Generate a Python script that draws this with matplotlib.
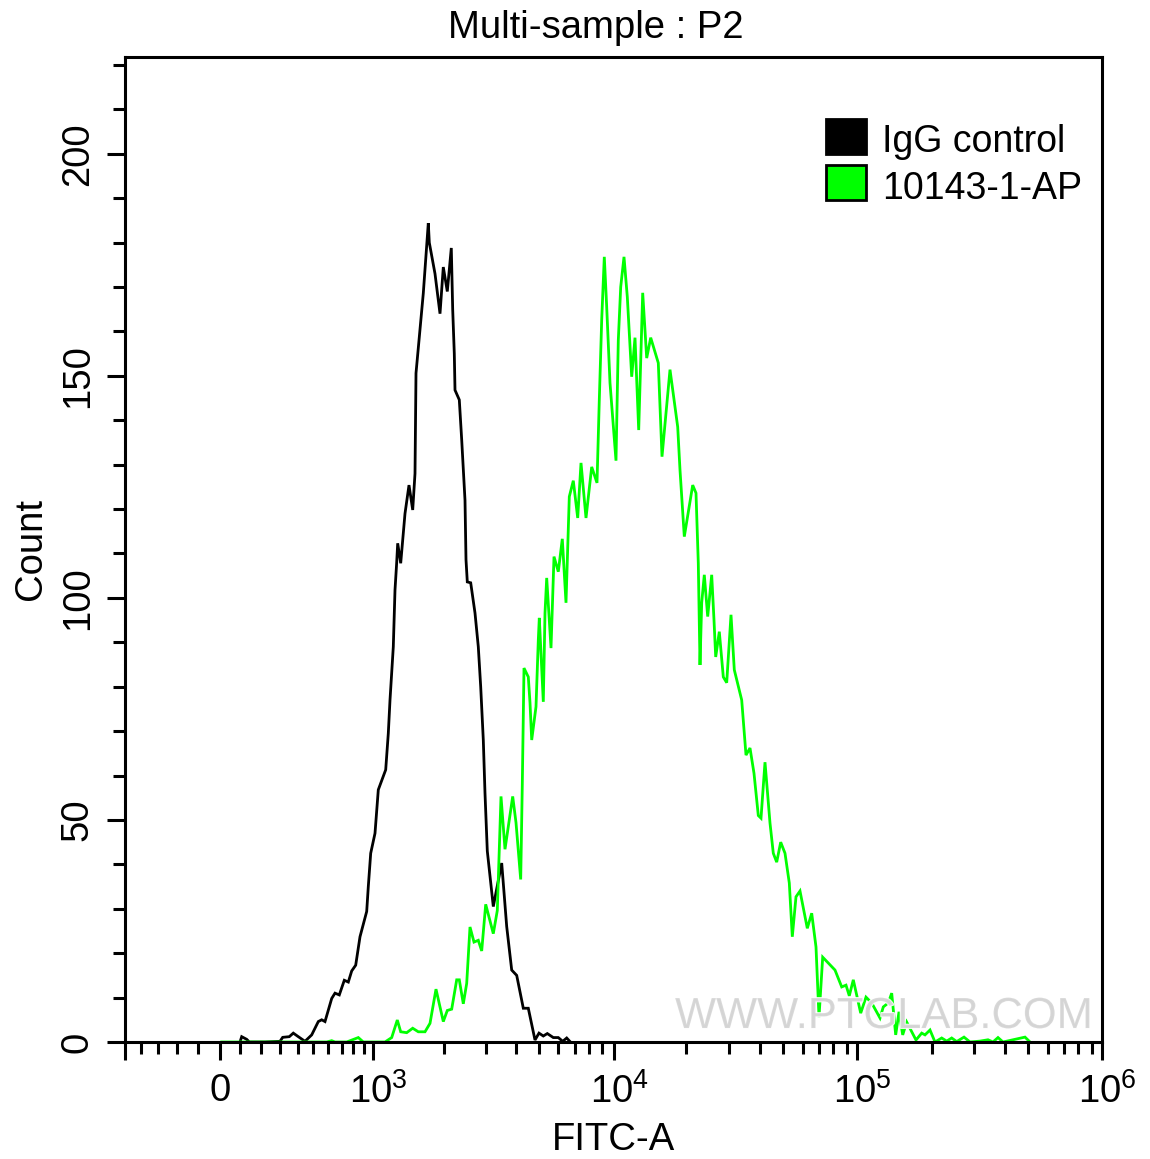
import matplotlib
matplotlib.use('Agg')
import matplotlib.pyplot as plt
from matplotlib.patches import Patch
from matplotlib.transforms import ScaledTranslation
import matplotlib.patheffects as pe

plt.rcParams['font.family'] = ['Liberation Sans', 'DejaVu Sans']
plt.rcParams['mathtext.default'] = 'regular'

# histograms: display channel (biex axis) and count per channel
igg_channel = [115, 116.7, 121.7, 124.3, 140, 155, 157.7, 164.3, 168.3, 173.3, 180, 186.7, 193.3, 196.7, 200,
               206.7, 210, 214.3, 219.3, 223.3, 226.7, 230.7, 235, 241.7, 243.3, 245.7, 250, 253.3, 260.7, 263.3,
               265, 268.3, 270, 271.7, 272.7, 275.7, 280, 284, 287.7, 290, 291, 298.3, 303.3, 304.3, 310,
               315, 318.3, 322.3, 326.3, 327.7, 329.3, 330, 334.3, 336.7, 340, 341, 342.3, 345.7, 350,
               353.3, 355.7, 358.3, 360, 362.3, 368.3, 376.7, 381.7, 386.7, 391.7, 398.3, 403.3, 410, 414,
               418.3, 422.3, 428.3, 433.3, 437.7, 441.7, 445]
igg_count = [0, 1.2, 0.6, 0, 0, 0.15, 1.05, 1.2, 2, 1.2, 0.15, 1.6, 4.6, 5, 4.6,
             9.8, 11, 10.6, 13.9, 13.5, 16, 17.3, 23.7, 29.4, 35, 42.5, 47, 56.8, 61.3, 69.5,
             77, 89, 101.8, 108, 112.3, 107.8, 119, 125.4, 119.8, 128, 150.6, 168.6, 184.4, 180, 173,
             164, 174.5, 169, 178.8, 164.9, 155, 146.8, 144.6, 135.6, 122, 108.6, 103.6, 103.4, 96.6,
             89, 80, 68, 56, 43, 30.5, 40.3, 26, 16.2, 15, 7.6, 7.6, 0.45, 2,
             1.35, 1.9, 1, 1, 0.15, 0.9, 0.1]

ap_channel = [96.7, 201.7, 206.7, 210, 221.7, 233.3, 238.3, 260, 266.7, 272.3, 275.7, 281.7, 287.7, 293.3, 300,
              305, 311, 318.3, 322.3, 326.7, 331.7, 334.3, 338.3, 341.7, 345, 349, 353.3, 356.7, 360.7, 368.3,
              372.3, 376, 380, 387.7, 391, 395.7, 397.3, 399, 403.3, 405, 406.7, 411, 413.3, 414.3, 418.3,
              420, 421.7, 426, 429, 433.3, 437.3, 441, 444.3, 448.3, 452.7, 456, 461, 466.7, 472, 474.3,
              476.7, 479.3, 481.7, 485, 491, 493.3, 495.7, 499, 502.3, 506.7, 510, 513.7, 517.7, 521.7, 525.7,
              533.3, 537, 545, 552.7, 555, 559.3, 567.7, 571, 573.3, 575, 576.7, 579.3, 582.7, 586.7, 589,
              590.7, 594.3, 598.3, 601.7, 606, 609.3, 616.7, 621, 625, 629, 633.3, 636, 640, 645, 648.3,
              651.7, 655.7, 660, 664.3, 667.3, 671, 675, 682.3, 686.7, 691, 694, 697.7, 710, 716.7, 721,
              724.3, 728.3, 735.7, 741, 746.7, 755, 758.3, 763.3, 766.7, 770.7, 774, 777.7, 781.7, 791, 796.7,
              800, 805, 810, 816.7, 821.7, 826.7, 831.7, 839, 845, 855, 863, 868, 873, 878, 900, 905]
ap_count = [0, 0, 0.3, 0, 0, 1, 0, 0, 1, 4.95, 2.3, 2.1, 3.1, 2.3, 2.3,
            4.2, 11.9, 4.6, 7.1, 7.4, 14, 14, 8.6, 13.2, 25.9, 22.5, 22.9, 20.5, 31, 24.4,
            29.6, 55.3, 43.4, 55.3, 49.4, 36.6, 58, 84.2, 82.2, 76.4, 68, 75.5, 90.5, 95.5, 76.6,
            96.6, 104.5, 88.7, 109.3, 105.9, 113.3, 98.9, 122.8, 126.4, 118, 130.4, 118, 129.5, 125.9, 144.6,
            162.6, 176.8, 165.5, 148.4, 130.9, 158, 170, 176.8, 167.8, 149.8, 158.6, 137.8, 168.7, 154, 158.6,
            152.9, 131.8, 151.4, 138.5, 128.8, 113.8, 125.4, 123.6, 107.8, 84.9, 98.9, 105.2, 95.8, 105.2, 95,
            86.7, 92.4, 82.2, 80.9, 96.2, 83.8, 77, 64.6, 66.2, 60.5, 51, 50.4, 63, 49.3, 42.5,
            40.5, 45, 42.5, 35.8, 23.7, 32.7, 34, 25.6, 29, 21.4, 5.6, 19.1, 16.2, 12.4, 12.8,
            10.4, 14, 6.5, 10.1, 8.8, 5.4, 7.9, 8.8, 11, 1.6, 6.8, 1.6, 4.5, 0.45, 2,
            1.6, 2.7, 0, 0.9, 0.2, 0.9, 0.1, 1.1, 0, 0.2, 0.5, 0, 1, 0, 1.1, 0]

series_names = ['IgG control', '10143-1-AP']
x_major = [0, 95, 248, 489, 732, 977]
x_major_labels = ['', '0', '$10^{3}$', '$10^{4}$', '$10^{5}$', '$10^{6}$']
x_minor = [16, 33, 52, 73, 115, 136, 155, 173, 188, 203, 217, 228, 239,
           318.5, 361, 390.5, 414, 433, 449.5, 464, 477,
           561, 604, 635, 658, 678, 694, 708, 721.7,
           806.7, 849, 880, 903, 923, 939.3, 953, 966.7]
y_major = [0, 50, 100, 150, 200]
y_minor = [10, 20, 30, 40, 60, 70, 80, 90, 110, 120, 130, 140, 160, 170, 180, 190, 210, 220]

W, H = 1150, 1159
fig = plt.figure(figsize=(W / 100, H / 100), dpi=100)
ax = fig.add_axes([125 / W, 1 - 1042 / H, 977 / W, 985 / H])

ax.plot(igg_channel, igg_count, color='black', lw=2.0, solid_joinstyle='miter', zorder=3)
ax.plot(ap_channel, ap_count, color='#00ff00', lw=2.0, solid_joinstyle='miter', zorder=4)

ax.set_xlim(0, 977)
ax.set_ylim(0, 221.8)

ax.set_xticks(x_major)
ax.set_xticklabels(x_major_labels)
ax.set_xticks(x_minor, minor=True)
ax.set_yticks(y_major)
ax.set_yticks(y_minor, minor=True)

for s in ax.spines.values():
    s.set_linewidth(2.2)
    s.set_zorder(6)
ax.tick_params(axis='both', which='major', length=13, width=2.2, labelsize=27.5)
ax.tick_params(axis='both', which='minor', length=8.6, width=2.2)
ax.tick_params(axis='x', which='major', pad=9.5)
ax.tick_params(axis='y', which='major', pad=8)
for lab in ax.get_yticklabels():
    lab.set_rotation(90)
    lab.set_va('center')

# the exponent labels sit a little right of their ticks
shift = ScaledTranslation(4 / 72, 0, fig.dpi_scale_trans)
for lab in ax.get_xticklabels():
    if lab.get_text().startswith('$'):
        lab.set_transform(lab.get_transform() + shift)

ax.set_xlabel('FITC-A', fontsize=27.5, labelpad=8)
ax.set_ylabel('Count', fontsize=27.5, labelpad=7.5)
ax.set_title('Multi-sample : P2', fontsize=27.5, x=0.482, pad=13.5)

# watermark
ax.text(0.563, 0.0142, 'WWW.PTGLAB.COM', transform=ax.transAxes, fontsize=31.3, color='#d4d4d4',
        ha='left', va='baseline', alpha=0.9, zorder=5,
        path_effects=[pe.withStroke(linewidth=1.5, foreground='white')])

handles = [Patch(facecolor='black', edgecolor='black', lw=2),
           Patch(facecolor='#00ff00', edgecolor='black', lw=2)]
leg = ax.legend(handles, series_names, loc='upper left', bbox_to_anchor=(0.7175, 0.9375), frameon=False,
                fontsize=27, handlelength=1.07, handleheight=1.07, handletextpad=0.42, labelspacing=0.22,
                borderpad=0, borderaxespad=0)
for t in leg.get_texts():
    t.set_position((0, -3))

fig.savefig('out.png', dpi=100)
